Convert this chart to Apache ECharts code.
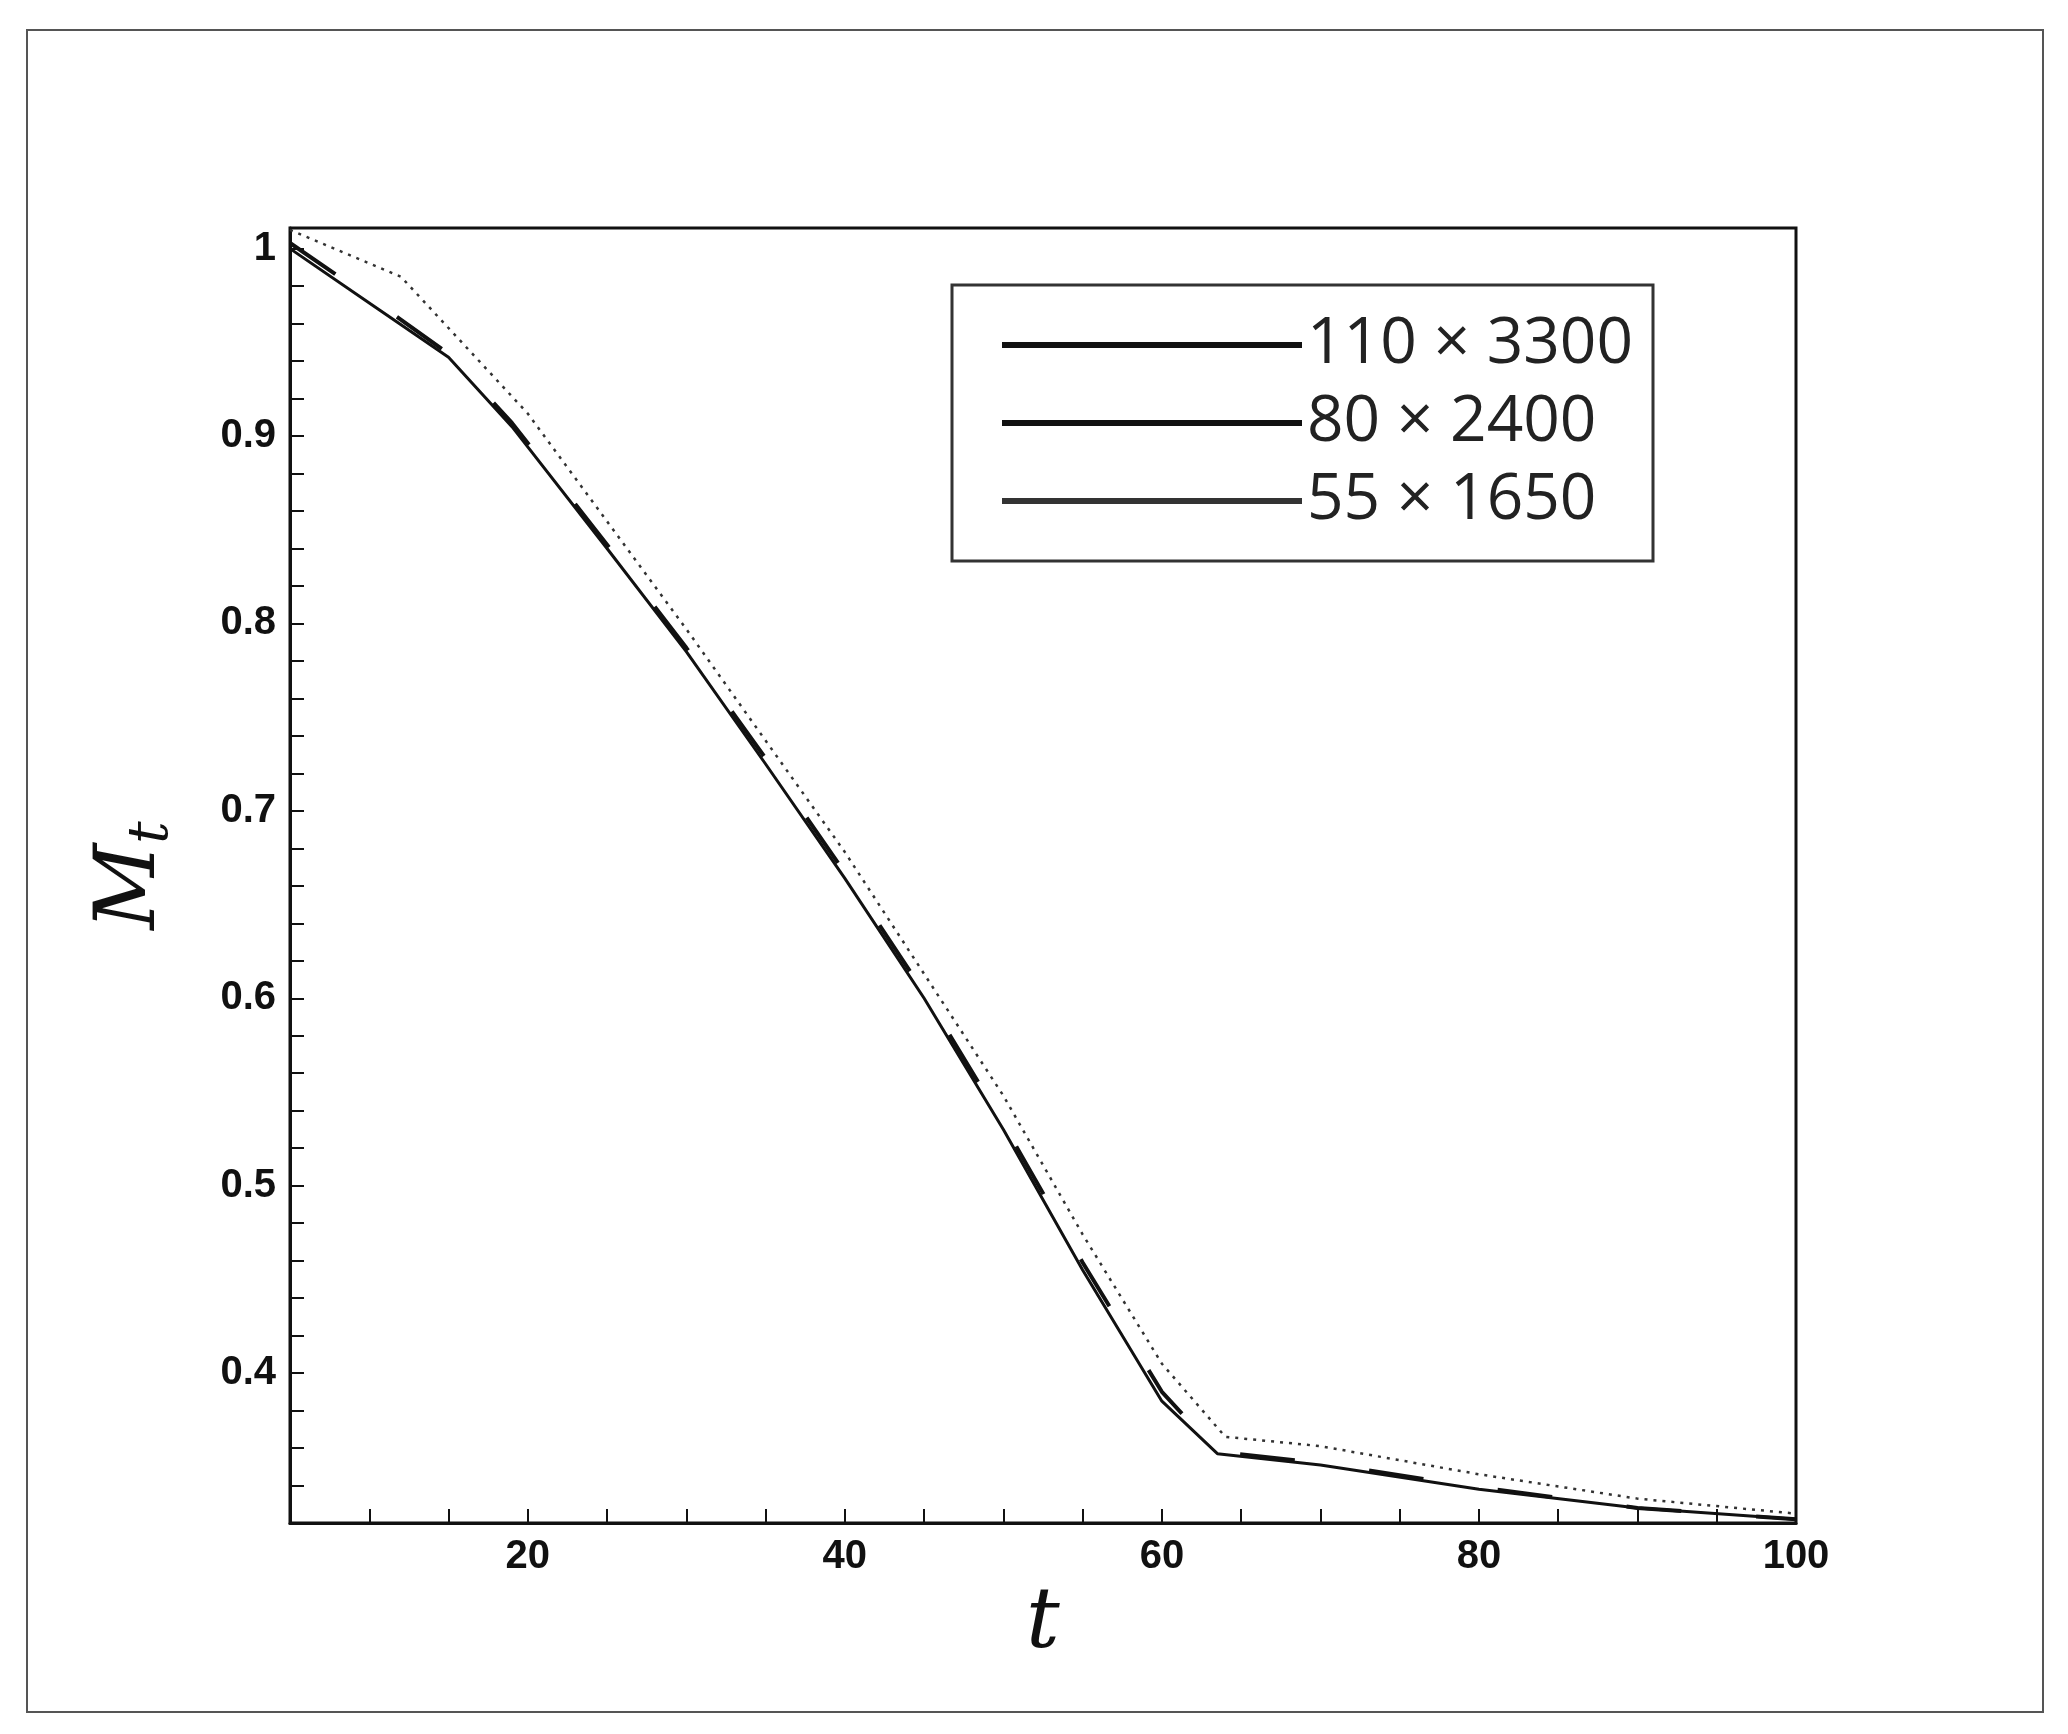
<!DOCTYPE html><html><head><meta charset="utf-8"><script src="https://cdn.jsdelivr.net/npm/echarts@6/dist/echarts.min.js"></script>
<style>body{margin:0;background:#fff}#c{width:2068px;height:1734px}#f{position:absolute;left:26px;top:29px;width:2014px;height:1680px;border:2px solid #555;pointer-events:none}</style></head><body><div id="c"></div><div id="f"></div>
<script>
const names=['110 \u00d7 3300','80 \u00d7 2400','55 \u00d7 1650'];
const fine=[[5,1.0],[10,0.971],[15,0.942],[19,0.905],[25,0.84],[30,0.785],[35,0.725],[40,0.664],[45,0.6],[50,0.53],[55,0.455],[60,0.385],[63.5,0.357],[70,0.351],[80,0.338],[90,0.328],[100,0.322]];
const mid=[[5,1.003],[10,0.974],[15,0.944],[19,0.907],[25,0.842],[30,0.787],[35,0.728],[40,0.667],[45,0.603],[50,0.533],[55,0.459],[60,0.39],[63.5,0.358],[70,0.352],[80,0.339],[90,0.328],[100,0.322]];
const coarse=[[5,1.01],[12,0.985],[20,0.912],[30,0.797],[40,0.678],[50,0.548],[55,0.474],[60,0.405],[64,0.366],[70,0.361],[80,0.346],[90,0.333],[100,0.325]];
const ch=echarts.init(document.getElementById('c'));
const lab={fontFamily:'Liberation Sans',fontSize:40,color:'#111',fontWeight:'bold'};
ch.setOption({animation:false,
grid:{left:290,right:272,top:228,bottom:211},
legend:{type:'plain',show:true,left:952,top:285,orient:'vertical',itemWidth:300,itemHeight:6,itemGap:14,padding:[28,20,28,50],
 borderColor:'#333',borderWidth:3,textStyle:{fontFamily:'Open Sans',fontSize:64,color:'#222'},icon:'rect',data:names},
xAxis:{type:'value',min:5,max:100,interval:5,name:'t',nameLocation:'middle',nameGap:60,
 nameTextStyle:{fontFamily:'DejaVu Serif',fontStyle:'italic',fontSize:84,color:'#111'},
 axisLine:{onZero:false,lineStyle:{color:'#111',width:3}},axisTick:{inside:true,length:14,lineStyle:{color:'#111',width:2}},
 axisLabel:Object.assign({margin:14,formatter:v=>v%20===0?String(v):''},lab),splitLine:{show:false}},
yAxis:{type:'value',min:0.32,max:1.011,interval:0.02,name:'{m|M}{s|t}',nameLocation:'middle',nameGap:110,nameRotate:90,
 nameTextStyle:{rich:{m:{fontFamily:'DejaVu Serif',fontStyle:'italic',fontSize:84,color:'#111'},s:{fontFamily:'DejaVu Serif',fontStyle:'italic',fontSize:56,color:'#111',padding:[40,0,0,0]}}},
 axisLine:{onZero:false,lineStyle:{color:'#111',width:3}},axisTick:{inside:true,length:14,lineStyle:{color:'#111',width:2}},
 axisLabel:Object.assign({margin:14,formatter:v=>{const r=Math.round(v*10);return Math.abs(v*10-r)<1e-6?(r===10?'1':(r/10).toFixed(1)):'';}},lab),splitLine:{show:false}},
graphic:[{type:'rect',shape:{x:290,y:228,width:1506,height:1295},style:{fill:'none',stroke:'#111',lineWidth:3},silent:true,z:0}],
series:[
{name:names[0],type:'line',data:fine,symbol:'none',lineStyle:{color:'#111',width:3,type:'solid'},itemStyle:{color:'#111'},z:3},
{name:names[1],type:'line',data:mid,symbol:'none',lineStyle:{color:'#111',width:4,type:[55,75]},itemStyle:{color:'#111'},z:2},
{name:names[2],type:'line',data:coarse,symbol:'none',lineStyle:{color:'#333',width:2.5,type:[3,6]},itemStyle:{color:'#333'},z:1}
]});
</script></body></html>
